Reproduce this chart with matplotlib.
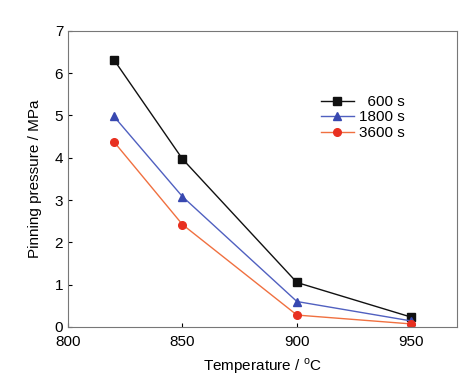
import matplotlib
matplotlib.use("Agg")
import matplotlib.pyplot as plt

plt.rcParams["font.family"] = ["Liberation Sans", "DejaVu Sans"]
plt.rcParams["mathtext.fontset"] = "custom"
plt.rcParams["mathtext.rm"] = "Liberation Sans"

temps = [820, 850, 900, 950]
p600 = [6.32, 3.97, 1.05, 0.23]
p1800 = [4.98, 3.08, 0.60, 0.14]
p3600 = [4.38, 2.42, 0.28, 0.07]

fig = plt.figure(figsize=(4.66, 3.81), dpi=100)
ax = fig.add_axes([0.146, 0.142, 0.835, 0.777])

ax.plot(temps, p600, "-s", color="#111111", lw=1, ms=5.5, label="  600 s")
ax.plot(temps, p1800, "-^", color="#5060c0", mfc="#3848b0", mec="#3848b0", lw=1, ms=5.5, label="1800 s")
ax.plot(temps, p3600, "-o", color="#f07040", mfc="#e83020", mec="#e83020", lw=1, ms=5.5, label="3600 s")

ax.set_xlim(800, 970)
ax.set_ylim(0, 7)
ax.set_xticks([800, 850, 900, 950])
ax.set_yticks(range(8))
ax.tick_params(direction="in", length=3, labelsize=11, top=False, right=False)
ax.tick_params(axis="x", pad=6)
for s in ax.spines.values():
    s.set_color("#777777")
ax.set_xlabel("Temperature / $^{\\rm o}$C", fontsize=11, labelpad=5)
ax.set_ylabel("Pinning pressure / MPa", fontsize=11, labelpad=9)
ax.legend(loc="upper right", bbox_to_anchor=(0.90, 0.83), frameon=False, fontsize=11,
          handlelength=2.2, handletextpad=0.3, labelspacing=0.1)

fig.savefig("out.png", dpi=100)
